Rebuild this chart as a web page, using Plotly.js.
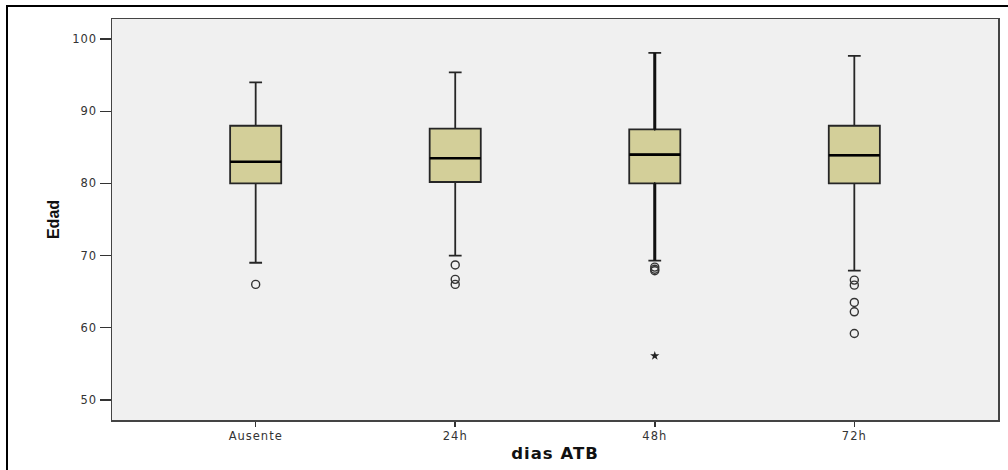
<!DOCTYPE html>
<html>
<head>
<meta charset="utf-8">
<script src="https://cdn.plot.ly/plotly-3.0.1.min.js"></script>
<style>
  html, body { margin: 0; padding: 0; background: #ffffff; }
  #wrap { position: relative; width: 1008px; height: 470px; overflow: hidden; }
  #chart { width: 1008px; height: 470px; }
  #frame { position: absolute; left: 6px; top: 5px; width: 1100px; height: 600px;
           border-left: 2px solid #000; border-top: 2px solid #000; pointer-events: none; }
  .xtick text, .ytick text { letter-spacing: 1px; }
  .g-xtitle text { letter-spacing: 1px; }
</style>
</head>
<body>
<div id="wrap">
  <div id="chart"></div>
  <div id="frame"></div>
</div>
<script>
// Categories (dias ATB)
const categories = ['Ausente', '24h', '48h', '72h'];
// Box statistics (Edad)
const lowerWhisker = [69.0, 70.0, 69.3, 67.9];
const q1Values     = [80.0, 80.2, 80.0, 80.0];
const medianValues = [83.0, 83.5, 84.0, 83.9];
const q3Values     = [88.0, 87.6, 87.5, 88.0];
const upperWhisker = [94.0, 95.4, 98.1, 97.7];
// Outliers (circles)
const outlierCat = ['Ausente', '24h', '24h', '24h', '48h', '48h', '48h', '72h', '72h', '72h', '72h', '72h'];
const outlierAge = [66.0, 68.7, 66.7, 66.0, 68.4, 68.1, 67.9, 66.6, 65.9, 63.5, 62.2, 59.2];
// Extreme values (stars)
const extremeCat = ['48h'];
const extremeAge = [56.1];
// Y tick labels
const yTicks = [50, 60, 70, 80, 90, 100];

// Style: whisker stem weight per category
const stemWidths = [0, 0, 3, 0];

const traces = [];
// Main boxes
traces.push({
  type: 'box',
  x: categories,
  q1: q1Values,
  median: medianValues,
  q3: q3Values,
  lowerfence: lowerWhisker,
  upperfence: upperWhisker,
  width: 0.256,
  whiskerwidth: 0.25,
  fillcolor: '#d3cf99',
  line: { color: '#262626', width: 1.8 },
  boxpoints: false,
  hoverinfo: 'skip',
  showlegend: false
});
// Heavier whisker stems where the original draws them heavier
categories.forEach((c, i) => {
  if (!stemWidths[i]) return;
  traces.push({
    type: 'box', x: [c],
    q1: [q1Values[i]], median: [q1Values[i]], q3: [q1Values[i]],
    lowerfence: [lowerWhisker[i]], upperfence: [q1Values[i]],
    width: 0.005, whiskerwidth: 0,
    fillcolor: 'rgba(0,0,0,0)',
    line: { color: '#111111', width: stemWidths[i] },
    boxpoints: false, hoverinfo: 'skip', showlegend: false
  });
  traces.push({
    type: 'box', x: [c],
    q1: [q3Values[i]], median: [q3Values[i]], q3: [q3Values[i]],
    lowerfence: [q3Values[i]], upperfence: [upperWhisker[i]],
    width: 0.005, whiskerwidth: 0,
    fillcolor: 'rgba(0,0,0,0)',
    line: { color: '#111111', width: stemWidths[i] },
    boxpoints: false, hoverinfo: 'skip', showlegend: false
  });
});
// Median emphasis (degenerate box at the median)
traces.push({
  type: 'box',
  x: categories,
  q1: medianValues,
  median: medianValues,
  q3: medianValues,
  lowerfence: medianValues,
  upperfence: medianValues,
  width: 0.256,
  whiskerwidth: 0,
  fillcolor: 'rgba(0,0,0,0)',
  line: { color: '#000000', width: 2.6 },
  boxpoints: false,
  hoverinfo: 'skip',
  showlegend: false
});
traces.push({
  type: 'scatter',
  mode: 'markers',
  x: outlierCat,
  y: outlierAge,
  marker: { symbol: 'circle-open', size: 8, color: '#333333', line: { width: 1.4, color: '#333333' } },
  hoverinfo: 'skip',
  showlegend: false
});
traces.push({
  type: 'scatter',
  mode: 'markers',
  x: extremeCat,
  y: extremeAge,
  marker: { symbol: 'star', size: 7, color: '#222222' },
  hoverinfo: 'skip',
  showlegend: false
});

const layout = {
  width: 1008,
  height: 470,
  margin: { l: 112, r: 10, t: 19, b: 50 },
  paper_bgcolor: '#ffffff',
  plot_bgcolor: '#f0f0f0',
  showlegend: false,
  font: { family: 'DejaVu Sans, Arial, sans-serif', color: '#333333', size: 11 },
  xaxis: {
    type: 'category',
    categoryorder: 'array',
    categoryarray: categories,
    range: [-0.72, 3.72],
    showgrid: false,
    zeroline: false,
    showline: true,
    mirror: true,
    linecolor: '#444444',
    linewidth: 1.5,
    ticks: 'outside',
    ticklen: 5,
    tickwidth: 1.5,
    tickcolor: '#333333',
    tickfont: { family: 'DejaVu Sans, Arial, sans-serif', size: 11.5, color: '#333333' },
    title: { text: 'dias ATB', standoff: 5,
             font: { family: 'DejaVu Sans, Arial, sans-serif', size: 16.5, color: '#111111', weight: 'bold' } }
  },
  yaxis: {
    range: [47.2, 102.8],
    tickmode: 'array',
    tickvals: yTicks,
    ticktext: yTicks.map(String),
    showgrid: false,
    zeroline: false,
    showline: true,
    mirror: true,
    linecolor: '#444444',
    linewidth: 1.5,
    ticks: 'outside',
    ticklen: 11,
    tickwidth: 1.5,
    tickcolor: '#333333',
    tickfont: { family: 'DejaVu Sans, Arial, sans-serif', size: 11.5, color: '#333333' },
    title: { text: 'Edad', standoff: 8,
             font: { family: 'Liberation Sans Narrow, Arial Narrow, Liberation Sans, sans-serif', size: 16, color: '#111111', weight: 'bold' } }
  }
};

Plotly.newPlot('chart', traces, layout, { staticPlot: true, displayModeBar: false });
</script>
</body>
</html>
